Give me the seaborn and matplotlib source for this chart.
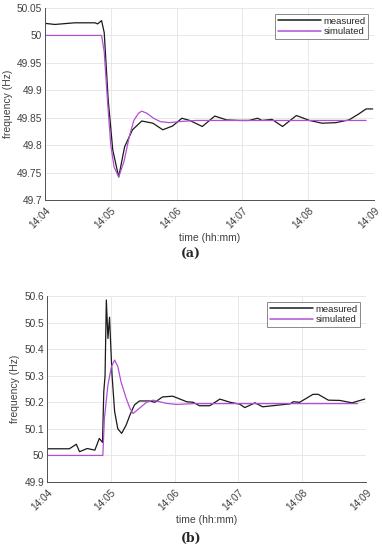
import matplotlib
matplotlib.use("Agg")
import matplotlib.pyplot as plt
import seaborn as sns
import pandas as pd

# minutes after 14:04
meas_a_t = [0.0, 0.15, 0.45, 0.76, 0.80, 0.86, 0.90, 0.96, 1.03, 1.12, 1.21, 1.33, 1.47,
            1.64, 1.79, 1.94, 2.08, 2.20, 2.39, 2.58, 2.76, 2.95, 3.10, 3.23, 3.30, 3.45,
            3.61, 3.82, 4.02, 4.21, 4.42, 4.62, 4.77, 4.88, 4.98]
meas_a_f = [50.022, 50.020, 50.023, 50.023, 50.021, 50.027, 50.005, 49.883, 49.791, 49.742,
            49.797, 49.828, 49.844, 49.840, 49.828, 49.835, 49.849, 49.845, 49.834, 49.853,
            49.846, 49.845, 49.845, 49.849, 49.845, 49.847, 49.834, 49.854, 49.845, 49.840,
            49.841, 49.846, 49.857, 49.866, 49.866]

sim_a_t = [0.0, 0.86, 0.90, 0.95, 1.00, 1.05, 1.12, 1.20, 1.28, 1.35, 1.42, 1.47, 1.55,
           1.65, 1.75, 1.89, 2.05, 2.30, 4.88]
sim_a_f = [50.0, 50.0, 49.97, 49.88, 49.80, 49.76, 49.742, 49.77, 49.815, 49.845, 49.858,
           49.862, 49.858, 49.849, 49.843, 49.841, 49.843, 49.845, 49.845]

meas_b_t = [0.0, 0.35, 0.46, 0.51, 0.63, 0.75, 0.82, 0.87, 0.89, 0.91, 0.93, 0.955, 0.98,
            1.02, 1.06, 1.11, 1.17, 1.24, 1.30, 1.37, 1.45, 1.61, 1.69, 1.81, 1.97, 2.19,
            2.29, 2.39, 2.55, 2.71, 2.87, 3.02, 3.10, 3.26, 3.38, 3.65, 3.81, 3.86, 3.96,
            4.17, 4.25, 4.41, 4.59, 4.78, 4.98]
meas_b_f = [50.025, 50.025, 50.042, 50.014, 50.026, 50.020, 50.064, 50.049, 50.24, 50.30,
            50.585, 50.44, 50.52, 50.30, 50.165, 50.100, 50.083, 50.114, 50.152, 50.190,
            50.205, 50.205, 50.200, 50.220, 50.223, 50.202, 50.200, 50.187, 50.187, 50.212,
            50.200, 50.193, 50.180, 50.198, 50.183, 50.190, 50.194, 50.202, 50.200, 50.230,
            50.230, 50.208, 50.207, 50.198, 50.212]

sim_b_t = [0.0, 0.875, 0.90, 0.955, 1.01, 1.06, 1.11, 1.16, 1.24, 1.30, 1.35, 1.45, 1.56,
           1.66, 1.87, 2.03, 2.30, 4.87]
sim_b_f = [50.0, 50.0, 50.14, 50.265, 50.334, 50.359, 50.335, 50.277, 50.216, 50.177,
           50.158, 50.178, 50.200, 50.208, 50.196, 50.192, 50.195, 50.195]

tick_labels = ["14:04", "14:05", "14:06", "14:07", "14:08", "14:09"]

sns.set_style("whitegrid")
plt.rcParams["font.family"] = ["Liberation Sans", "DejaVu Sans"]

fig = plt.figure(figsize=(3.82, 5.5), dpi=100)
ax_a = fig.add_axes([45 / 382, 1 - 200 / 550, 329 / 382, 192 / 550])
ax_b = fig.add_axes([47 / 382, 1 - 482 / 550, 319 / 382, 186 / 550])

black = "#1a1a1a"
purple = "#b14fd3"


def draw(ax, mt, mf, st, sf, ylim, yticks, ylabels):
    df_m = pd.DataFrame({"t": mt, "f": mf})
    df_s = pd.DataFrame({"t": st, "f": sf})
    sns.lineplot(data=df_m, x="t", y="f", ax=ax, color=black, lw=0.9, label="measured")
    sns.lineplot(data=df_s, x="t", y="f", ax=ax, color=purple, lw=0.9, label="simulated")
    ax.set_xlim(0, 5)
    ax.set_ylim(*ylim)
    ax.set_xticks(range(6))
    ax.set_xticklabels(tick_labels, rotation=45, ha="right", va="top",
                       rotation_mode="anchor")
    ax.set_yticks(yticks)
    ax.set_yticklabels(ylabels)
    ax.tick_params(axis="both", labelsize=7.3, colors="#404040", direction="in",
                   length=3, width=0.6, pad=2)
    ax.tick_params(axis="x", pad=4)
    ax.grid(True, color="#e4e4e4", lw=0.6)
    for s in ["top", "right"]:
        ax.spines[s].set_visible(False)
    for s in ["left", "bottom"]:
        ax.spines[s].set_color("#505050")
        ax.spines[s].set_linewidth(0.7)
    ax.set_xlabel("time (hh:mm)", fontsize=7.5, color="#404040", labelpad=2)
    ax.set_ylabel("frequency (Hz)", fontsize=7.5, color="#404040", labelpad=3)
    leg = ax.legend(loc="upper right", fontsize=6.8, frameon=True, fancybox=False,
                    handlelength=4.5, borderpad=0.3, labelspacing=0.15,
                    handletextpad=0.3, borderaxespad=0.6)
    leg.get_frame().set_edgecolor("#555555")
    leg.get_frame().set_linewidth(0.6)
    for line in leg.get_lines():
        line.set_linewidth(1.1)


draw(ax_a, meas_a_t, meas_a_f, sim_a_t, sim_a_f, (49.7, 50.05),
     [49.7, 49.75, 49.8, 49.85, 49.9, 49.95, 50.0, 50.05],
     ["49.7", "49.75", "49.8", "49.85", "49.9", "49.95", "50", "50.05"])
draw(ax_b, meas_b_t, meas_b_f, sim_b_t, sim_b_f, (49.9, 50.6),
     [49.9, 50.0, 50.1, 50.2, 50.3, 50.4, 50.5, 50.6],
     ["49.9", "50", "50.1", "50.2", "50.3", "50.4", "50.5", "50.6"])

fig.text(191 / 382, 1 - 254 / 550, "(a)", ha="center", va="center", fontsize=9,
         fontweight="bold", family=["DejaVu Serif"])
fig.text(191 / 382, 1 - 538 / 550, "(b)", ha="center", va="center", fontsize=9,
         fontweight="bold", family=["DejaVu Serif"])

fig.savefig("out.png", dpi=100)
